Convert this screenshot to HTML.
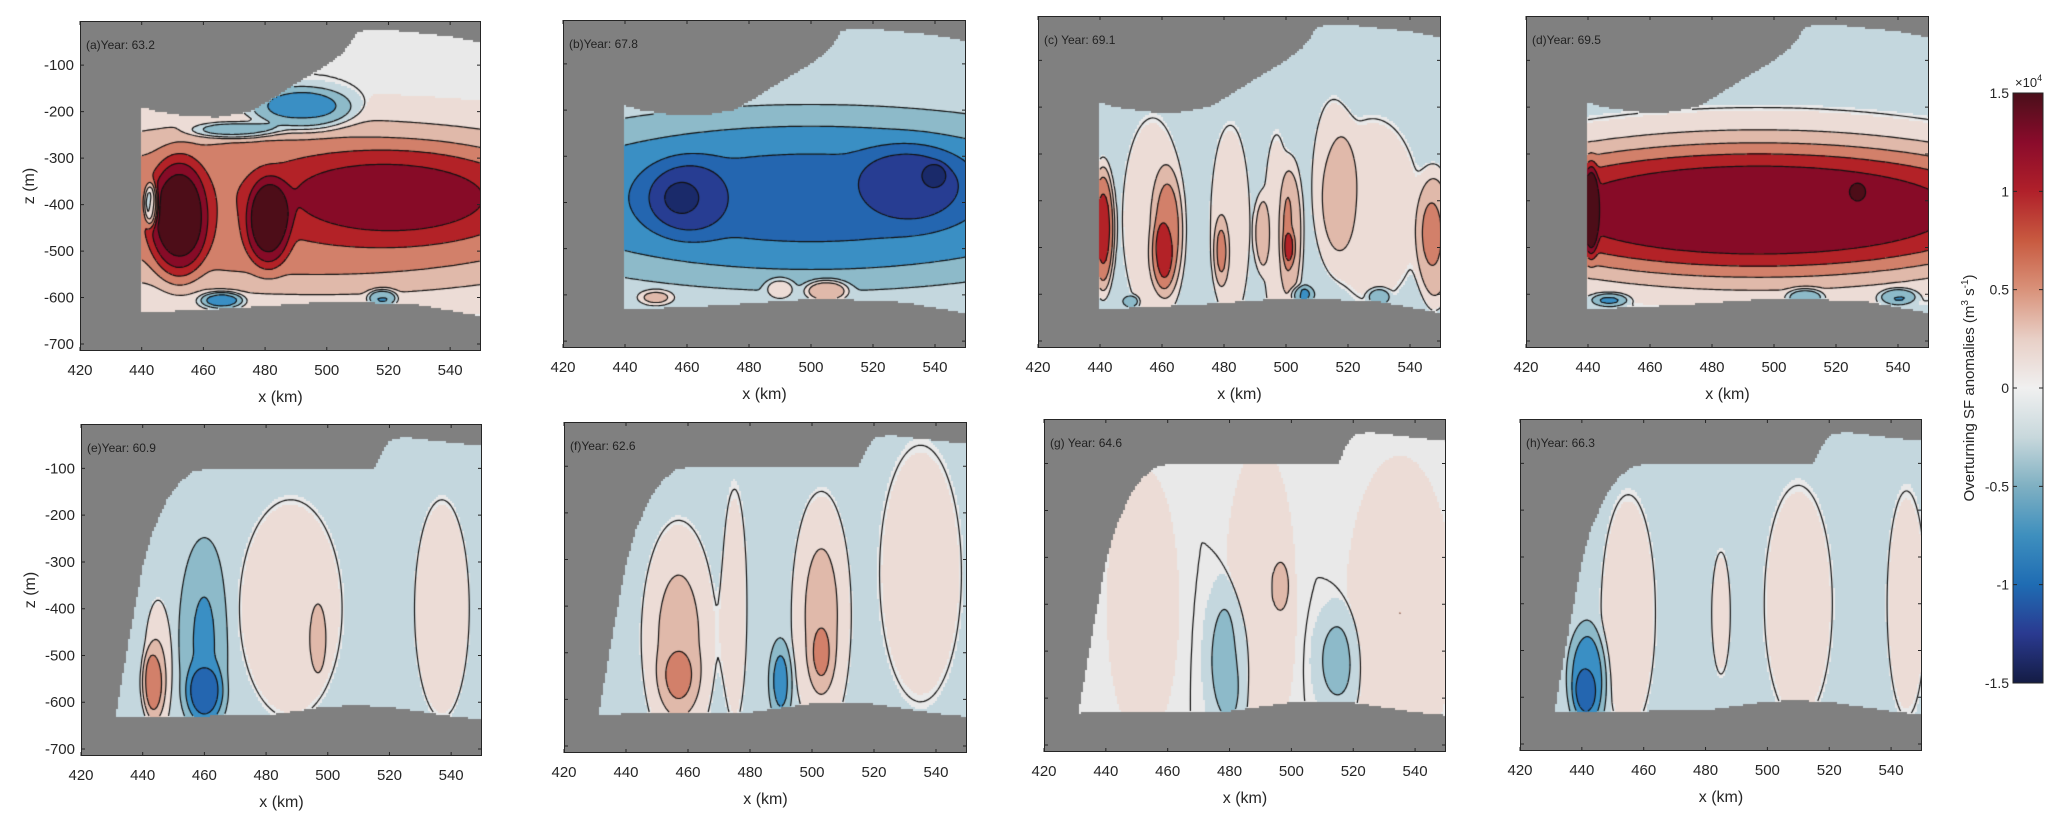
<!DOCTYPE html>
<html><head><meta charset="utf-8">
<style>
html,body{margin:0;padding:0;background:#fff;}
#fig{position:relative;width:2067px;height:829px;overflow:hidden;font-family:"Liberation Sans",sans-serif;}
canvas{position:absolute;}
svg{position:absolute;left:0;top:0;}
</style></head>
<body>
<div id="fig">
<svg id="ov" width="2067" height="829"></svg>
</div>
<script>
// ---- data ----
const xTicks=[420,440,460,480,500,520,540];
const zTicks=[-100,-200,-300,-400,-500,-600,-700];
const cbTicks=[1.5,1,0.5,0,-0.5,-1,-1.5];
const levelEdges=[-1.35,-1.05,-0.75,-0.45,-0.2,-0.02,0.02,0.2,0.45,0.75,1.05,1.35];
const lineLevels=[-1.35,-1.05,-0.75,-0.45,-0.2,0,0.2,0.45,0.75,1.05,1.35];
const bandColors=['#1a2a6a','#273d92','#2466b0','#3a8fc4','#8dbac9','#c4d7de','#e9e9e9','#ecdcd6','#e0b9aa','#d2806a','#b32227','#870b27','#4d0d18'];
// topography (top row)
const surfXTop=[440,445,455,465,475,480,490,500,505,508,510,520,540,550];
const surfZTop=[-190,-200,-210,-212,-200,-182,-140,-100,-75,-50,-27,-24,-38,-51];
const bedXTop=[438,470,500,510,530,545,550];
const bedZTop=[-633,-623,-609,-610,-616,-634,-640];
// topography (bottom row)
const surfXBot=[431,432,436,438,440,443,448,452,456,460,515,518,520,525,540,550];
const surfZBot=[-640,-600,-450,-380,-310,-240,-165,-130,-108,-102,-100,-60,-40,-33,-45,-52];
const bedXBot=[430,480,500,510,520,530,540,550];
const bedZBot=[-632,-628,-609,-607,-610,-620,-630,-637];
// anomaly blobs [x km, z m, sx km, sz m, amplitude x1e4]
const blobsA=[[497,-405,90,150,0.7],[522,-380,35,85,0.5],[481,-440,6,80,0.85],[452,-430,8,110,0.95],[470,-240,12,15,-0.6],[492,-195,14,40,-0.65],[466,-605,6,15,-0.7],[518,-600,4,15,-0.6],[443,-400,2,40,-1.0]];
const baseA=0;
const blobsB=[[500,-390,80,140,-0.7],[460,-390,12,70,-0.5],[532,-360,15,70,-0.5],[458,-390,4,25,-0.4],[540,-340,3,20,-0.45],[505,-590,6,20,0.6],[450,-605,5,15,0.4],[490,-585,4,20,0.35]];
const baseB=-0.12;
const blobsC=[[457,-440,9,200,0.3],[482,-450,6,200,0.28],[497,-470,4,200,0.28],[528,-420,14,180,0.3],[515,-350,6,160,0.25],[462,-470,4,110,0.5],[479,-510,2,60,0.4],[492,-470,2,70,0.4],[502,-470,3,130,0.5],[501,-500,1.5,30,0.4],[548,-480,5,120,0.6],[441,-460,3,110,1.0],[460,-520,3,60,0.35],[505,-600,3,15,-0.4],[530,-605,3,15,-0.4],[450,-615,2,10,-0.4]];
const baseC=-0.15;
const blobsD=[[495,-420,75,110,1.0],[495,-420,95,180,0.45],[447,-612,5,12,-0.5],[510,-605,5,15,-0.5],[540,-605,5,15,-0.5],[441,-420,2,80,0.9],[527,-380,2,15,0.4]];
const baseD=-0.15;
const blobsE=[[488,-400,15,210,0.32],[537,-400,8,210,0.32],[445,-530,4,130,0.35],[443,-560,3,60,0.45],[497,-470,2,60,0.25],[460,-470,6,160,-0.32],[460,-580,5,50,-0.55]];
const baseE=-0.15;
const blobsF=[[457,-470,10,210,0.35],[457,-550,5,60,0.3],[475,-400,4,250,0.2],[503,-420,8,220,0.35],[503,-500,3,60,0.3],[535,-330,12,250,0.25],[490,-560,3,70,-0.4]];
const baseF=-0.12;
const blobsG=[[452,-400,8,200,0.2],[490,-400,8,230,0.2],[535,-420,12,230,0.2],[480,-520,6,130,-0.3],[515,-520,6,90,-0.25],[497,-360,2,40,0.2]];
const baseG=0;
const blobsH=[[455,-420,8,230,0.25],[510,-400,10,230,0.25],[545,-400,6,230,0.22],[485,-420,3,130,0.2],[442,-560,5,90,-0.55],[441,-590,3,40,-0.3]];
const baseH=-0.12;
const panelLabels=['(a)Year: 63.2','(b)Year: 67.8','(c) Year: 69.1','(d)Year: 69.5','(e)Year: 60.9','(f)Year: 62.6','(g) Year: 64.6','(h)Year: 66.3'];

// ---- layout ----
const layout=[[80,21,401,330],[563,20,403,328],[1038,16,403,332],[1526,16,403,332],[81,424,401,332],[564,422,403,331],[1044,419,402,333],[1520,419,402,332]];
const panelBlobs=[blobsA,blobsB,blobsC,blobsD,blobsE,blobsF,blobsG,blobsH];
const panelBase=[baseA,baseB,baseC,baseD,baseE,baseF,baseG,baseH];
const X0=420,X1=550,Z0=-5,Z1=-715;
const NS='http://www.w3.org/2000/svg';
const ov=document.getElementById('ov');
const fig=document.getElementById('fig');

function interp(xs,zs,x){
  if(x<xs[0]) return null;
  for(let i=0;i<xs.length-1;i++){ if(x<=xs[i+1]){const t=(x-xs[i])/(xs[i+1]-xs[i]);return zs[i]+t*(zs[i+1]-zs[i]);} }
  return zs[zs.length-1];
}
function field(bl,base,x,z){let v=base;for(const b of bl){const dx=(x-b[0])/b[2],dz=(z-b[1])/b[3];const r2=dx*dx+dz*dz;v+=b[4]*Math.exp(-0.5*r2*r2);}return v;}
function band(v){let i=0;while(i<levelEdges.length&&v>levelEdges[i])i++;return i;}
function mk(tag,attrs,parent){const e=document.createElementNS(NS,tag);for(const k in attrs)e.setAttribute(k,attrs[k]);(parent||ov).appendChild(e);return e;}

layout.forEach((L,p)=>{
  const [px,py,pw,ph]=L;
  const top=p<4;
  const sX=top?surfXTop:surfXBot, sZ=top?surfZTop:surfZBot, bX=top?bedXTop:bedXBot, bZ=top?bedZTop:bedZBot;
  const xs=x=>px+(x-X0)/(X1-X0)*pw, zs=z=>py+(Z0-z)/(Z0-Z1)*ph;
  const cv=document.createElement('canvas');
  cv.width=pw;cv.height=ph;cv.style.left=px+'px';cv.style.top=py+'px';
  
  
  fig.insertBefore(cv,ov);
  const ctx=cv.getContext('2d');
  ctx.fillStyle='#808080';ctx.fillRect(0,0,pw,ph);
  const st=2, nx=Math.ceil(pw/st)+1, nz=Math.ceil(ph/st)+1;
  const V=[],M=[];
  for(let j=0;j<nz;j++){V.push(new Float32Array(nx));M.push(new Uint8Array(nx));
    for(let i=0;i<nx;i++){
      const x=X0+(i*st)/pw*(X1-X0), z=Z0-(j*st)/ph*(Z0-Z1);
      const sf=interp(sX,sZ,x), bd=interp(bX,bZ,x);
      const ocean=sf!==null&&bd!==null&&z<=sf&&z>=bd;
      M[j][i]=ocean?1:0;
      V[j][i]=field(panelBlobs[p],panelBase[p],x,z);
    }}
  for(let j=0;j<nz;j++)for(let i=0;i<nx;i++){ if(!M[j][i])continue;
    ctx.fillStyle=bandColors[band(V[j][i])];ctx.fillRect(i*st-1,j*st-1,st,st);}
  // contour lines (marching squares)
  ctx.strokeStyle='#111';ctx.lineWidth=1.2;ctx.beginPath();
  for(const lv of lineLevels){
    for(let j=0;j<nz-1;j++)for(let i=0;i<nx-1;i++){
      if(!(M[j][i]&&M[j][i+1]&&M[j+1][i]&&M[j+1][i+1]))continue;
      const a=V[j][i],b=V[j][i+1],c=V[j+1][i+1],d=V[j+1][i];
      const pts=[];
      const e=(v1,v2,x1,y1,x2,y2)=>{if((v1>lv)!==(v2>lv)){const t=(lv-v1)/(v2-v1);pts.push([x1+t*(x2-x1),y1+t*(y2-y1)]);}};
      const X=i*st,Y=j*st;
      e(a,b,X,Y,X+st,Y);e(b,c,X+st,Y,X+st,Y+st);e(c,d,X+st,Y+st,X,Y+st);e(d,a,X,Y+st,X,Y);
      for(let k=0;k+1<pts.length;k+=2){ctx.moveTo(pts[k][0],pts[k][1]);ctx.lineTo(pts[k+1][0],pts[k+1][1]);}
    }}
  ctx.stroke();
  // axes box
  const g=mk('g',{});
  
  
  const box=mk('rect',{x:px+0.5,y:py+0.5,width:pw-1,height:ph-1,fill:'none',stroke:'#262626','stroke-width':1},g);
  
  
  xTicks.forEach(t=>{
    const x=xs(t);
    const tk=mk('path',{d:`M${x},${py+ph}v-4M${x},${py}v4`,stroke:'#262626','stroke-width':1},g);
    
    
    const tl=mk('text',{x:x,y:py+ph+24,'text-anchor':'middle','font-size':15,fill:'#262626'},g);
    tl.textContent=t;
    
    
  });
  zTicks.forEach(t=>{
    const y=zs(t);
    const tk=mk('path',{d:`M${px},${y}h4M${px+pw},${y}h-4`,stroke:'#262626','stroke-width':1},g);
    
    
    if(p===0||p===4){
      const tl=mk('text',{x:px-6,y:y+5,'text-anchor':'end','font-size':15,fill:'#262626'},g);
      tl.textContent=t;
      
      
    }
  });
  const xl=mk('text',{x:px+pw/2,y:py+ph+51,'text-anchor':'middle','font-size':16,fill:'#262626'},g);
  xl.textContent='x (km)';
  
  
  if(p===0||p===4){
    const yl=mk('text',{x:0,y:0,'text-anchor':'middle','font-size':16,fill:'#262626',transform:`translate(${px-46},${py+ph/2}) rotate(-90)`},g);
    yl.textContent='z (m)';
    
    
  }
  const pt=mk('text',{x:px+6,y:py+28,'font-size':12,fill:'#222'},g);
  pt.textContent=panelLabels[p];
  
  
});

// ---- colorbar ----
const cbX=2013,cbY=93,cbW=30,cbH=590;
const defs=mk('defs',{});
const grad=mk('linearGradient',{id:'cbg',x1:0,y1:0,x2:0,y2:1},defs);
const cmapStops=['#4a0f1a','#8a0b2b','#b0202a','#c85a40','#d9927a','#e8cfc6','#f0f0f0','#c8d8dc','#7fb0c2','#3e8fbe','#1f6cb3','#2a3a90','#141c44'];
cmapStops.forEach((c,i)=>mk('stop',{offset:i/(cmapStops.length-1),'stop-color':c},grad));
const cb=mk('rect',{x:cbX,y:cbY,width:cbW,height:cbH,fill:'url(#cbg)',stroke:'#262626','stroke-width':1});


cbTicks.forEach(t=>{
  const y=cbY+(1.5-t)/3*cbH;
  const tk=mk('path',{d:`M${cbX},${y}h4M${cbX+cbW},${y}h-4`,stroke:'#262626'});
  
  
  const tl=mk('text',{x:cbX-4,y:y+5,'text-anchor':'end','font-size':14,fill:'#262626'});
  tl.textContent=t;
  
  
});
const ex=mk('text',{x:cbX+2,y:cbY-6,'font-size':13,fill:'#262626'});
ex.innerHTML='×10<tspan font-size="9" dy="-6">4</tspan>';


const ct=mk('text',{x:0,y:0,'text-anchor':'middle','font-size':15,fill:'#262626',transform:`translate(1974,388) rotate(-90)`});
ct.innerHTML='Overturning SF anomalies (m<tspan font-size="10" dy="-6">3</tspan><tspan dy="6"> s</tspan><tspan font-size="10" dy="-6">-1</tspan><tspan dy="6">)</tspan>';


</script>
</body></html>
